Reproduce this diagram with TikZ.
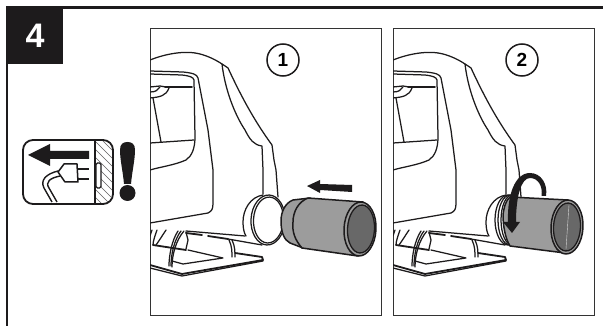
\documentclass[tikz,border=0pt]{standalone}
\usepackage{fontspec}
\setmainfont{Liberation Sans}
\definecolor{hoseg}{HTML}{9C9C9C}
\definecolor{hosed}{HTML}{686868}
\definecolor{ink}{HTML}{1D1B1C}
\definecolor{pan}{HTML}{333333}
\tikzset{
  ln/.style={draw=ink,line width=1.25pt,line join=round,line cap=round},
  thk/.style={draw=ink,line width=1.8pt,line join=round,line cap=round},
  panel/.style={draw=pan,line width=1.1pt},
  num/.style={circle,draw=ink,line width=1.5pt,minimum size=32pt,inner sep=0pt,font=\bfseries\fontsize{19}{19}\selectfont},
  hose/.style={draw=ink,line width=1.5pt,fill=hoseg,line join=round}
}
\newcommand{\jigsawbody}{%
  % top shell
  \draw[ln] (150,60) .. controls (165,54) and (185,50) .. (200,54) .. controls (208,56) and (216,60) .. (222,64)
     -- (228,68) .. controls (236,85) and (250,115) .. (272,145) -- (274,160) -- (276,170) -- (278,197);
  \draw[ln] (222,64) .. controls (225,90) and (235,115) .. (245,130) .. controls (250,140) and (254,145) .. (262,146) -- (263,170) -- (263,194);
  % window
  \draw[ln] (150,71) -- (183,72) .. controls (192,73) and (197,74) .. (198,78) -- (208,130) -- (213,170) -- (213,203)
     .. controls (213,209) and (212,211) .. (208,213) -- (150,223);
  \draw[ln] (150,74) -- (182,75) .. controls (190,76) and (193,77) .. (194,80) -- (195,137) .. controls (195,148) and (192,156) .. (186,160) .. controls (175,165) and (160,167) .. (150,170);
  \draw[ln] (150,143) -- (194,140);
  \draw[thk] (192,87) -- (165,87);
  \draw[ln] (150,87) -- (160,86) -- (166,87);
  \draw[ln] (150,98) .. controls (160,97) and (166,96) .. (169,88);
  \draw[ln] (150,92) .. controls (156,92) and (158,90) .. (160,87);
  \draw[ln] (153,98) -- (161,142);
  % base
  \draw[thk] (150,265) -- (182,274) -- (263,260) -- (262,257) -- (235,253);
  \draw[ln] (150,268) -- (182,276) -- (263,261);
  \draw[ln] (188,250) -- (223,258) -- (183,264) -- (172,261);
  \draw[thk] (153,245) -- (186,250);
  \draw[ln] (157,230) .. controls (155,236) and (153,241) .. (153,245);
  \draw[ln] (166,230) .. controls (162,236) and (159,241) .. (156,245);
  \draw[ln] (152,230) -- (150,236);
  \draw[ln] (178,231) .. controls (172,240) and (169,255) .. (169,266);
  \draw[ln] (184,231) .. controls (176,240) and (172,255) .. (172,267);
  \draw[ln] (181,231) .. controls (174,240) and (171,255) .. (171,266);
  \draw[ln] (186,232) -- (188,240) -- (186,249);
  \draw[ln] (229,240) .. controls (232,246) and (232,252) .. (232,257);
  \draw[ln] (232,240) .. controls (235,246) and (235,252) .. (235,257);
  \draw[thk] (186,233) -- (202,235);
  \draw[thk] (208,236) -- (228,239);
  \draw[ln] (186,231) -- (245,236);
  \draw[ln] (228,239) -- (262,245);
  % ring housing
  \draw[ln] (263,195) .. controls (250,197) and (243,210) .. (243,222) .. controls (243,228) and (244,233) .. (246,236);
}
\begin{document}
\begin{tikzpicture}[x=1pt,y=-1pt]
\useasboundingbox (0,0) rectangle (603,326);
\fill[white] (0,0) rectangle (603,326);
% outer frame
\draw[ink,line width=2.2pt] (7,326) -- (7,7.5) -- (603,7.5);
\node[fill=ink,minimum width=56pt,minimum height=56pt,inner sep=0pt,anchor=north west,text=white,font=\bfseries\fontsize{34}{34}\selectfont] (stepnum) at (7,7.5) {4};

% icon
\draw[ink,line width=1.8pt,rounded corners=10pt] (23,140) rectangle (113,204);
\begin{scope}
  \clip (95,141) -- (104,141) .. controls (109,141) and (112,144) .. (112,150) -- (112,194) .. controls (112,200) and (109,203) .. (104,203) -- (95,203) -- cycle;
  \foreach \k in {0,8,...,96} \draw[ink!70,line width=.45pt] (80,{110+\k}) -- (120,{150+\k});
\end{scope}
\draw[ink,line width=1.6pt] (95,140) -- (95,204);
\fill[ink] (28,155) -- (50,144) -- (50,151) -- (89,151) -- (89,159) -- (50,159) -- (50,166) -- cycle;
\draw[ink,line width=1.4pt,fill=white,rounded corners=1.5pt] (96,163) rectangle (101,188);
\draw[ink,line width=1.5pt,line join=round] (58,172) -- (64,164) -- (77,164) -- (78,182) -- (65,182) -- cycle;
\draw[ink,line width=1.6pt] (78,169) -- (89,169) (78,179) -- (89,179);
\draw[ink,line width=1.4pt] (58,171) .. controls (46,174) and (40,180) .. (44,188) -- (52,202);
\draw[ink,line width=1.4pt] (60,176) .. controls (50,178) and (45,182) .. (49,188) -- (57,202);
\fill[ink] (120,150) .. controls (120,144) and (123,142) .. (127.5,142) .. controls (132,142) and (135,144) .. (135,150) .. controls (135,160) and (132,172) .. (131,184) -- (124,184) .. controls (123,172) and (120,160) .. (120,150) -- cycle;
\fill[ink] (127.5,193) circle (8pt);

% panel 1
\node[panel,minimum width=231pt,minimum height=287pt,inner sep=0pt,anchor=north west] (panelA) at (150,28) {};
\begin{scope}
  \clip (150,28) rectangle (381,315);
  \jigsawbody
  % ring
  \draw[ln,fill=white,rotate around={-3:(268,220)}] (268,220) ellipse (17pt and 25pt);
  \draw[ln,rotate around={-3:(268,220)}] (268.5,220) ellipse (15pt and 23pt);
  % hose
  \draw[hose] (293,200) .. controls (285,203) and (281,212) .. (281,221) .. controls (281,232) and (284,240) .. (290,243) -- (303,248) -- (310,198) -- cycle;
  \draw[hose] (308,198) -- (363,202) -- (358,256) -- (302,248) .. controls (295,240) and (292,232) .. (293,222) .. controls (293,212) and (298,202) .. (308,198) -- cycle;
  \draw[hose,rotate around={-3:(360,229)}] (360,229) ellipse (16pt and 27pt);
  \draw[draw=ink,line width=1.3pt,fill=hosed,rotate around={-3:(361,229)}] (361,229) ellipse (13.5pt and 24pt);
  \fill[ink] (307,186) -- (320,180) -- (320,184) -- (352,185) -- (352,192) -- (320,190) -- (320,193) -- cycle;
\end{scope}
\node[num] (numA) at (283,60) {1};

% panel 2
\node[panel,minimum width=201pt,minimum height=287pt,inner sep=0pt,anchor=north west] (panelB) at (393,28) {};
\begin{scope}
  \clip (393,28) rectangle (594,315);
  \begin{scope}[shift={(243,0)}]
    \jigsawbody
  \end{scope}
  % rings behind the hose
  \draw[ln,fill=white] (508,220) ellipse (13pt and 25pt);
  \draw[ln] (510,220) ellipse (12pt and 25pt);
  \draw[ln] (512,220) ellipse (11pt and 25pt);
  % hose
  \draw[hose] (510,197) -- (568,200) -- (565,253) -- (510,246) .. controls (505,238) and (503,225) .. (503,215) .. controls (504,207) and (506,200) .. (510,197) -- cycle;
  \draw[hose,rotate around={-3:(567,227)}] (567,227) ellipse (16pt and 27pt);
  \draw[draw=ink,line width=1.3pt,fill=hosed,rotate around={-3:(567,227)}] (567,227) ellipse (13.5pt and 24pt);
  \draw[white!75!hosed,line width=.4pt] (569,205) -- (566,249);
  % rotation arrow
  \fill[ink] (541.5,196) .. controls (543,186) and (538,178) .. (530,178) .. controls (521,178) and (516,197) .. (516,222)
     -- (520,222) -- (512,233) -- (503,222) -- (508,222) .. controls (507,195) and (515,173) .. (530,173) .. controls (541,173) and (548,184) .. (546,196) -- cycle;
\end{scope}
\node[num] (numB) at (522,60) {2};
\end{tikzpicture}
\end{document}
